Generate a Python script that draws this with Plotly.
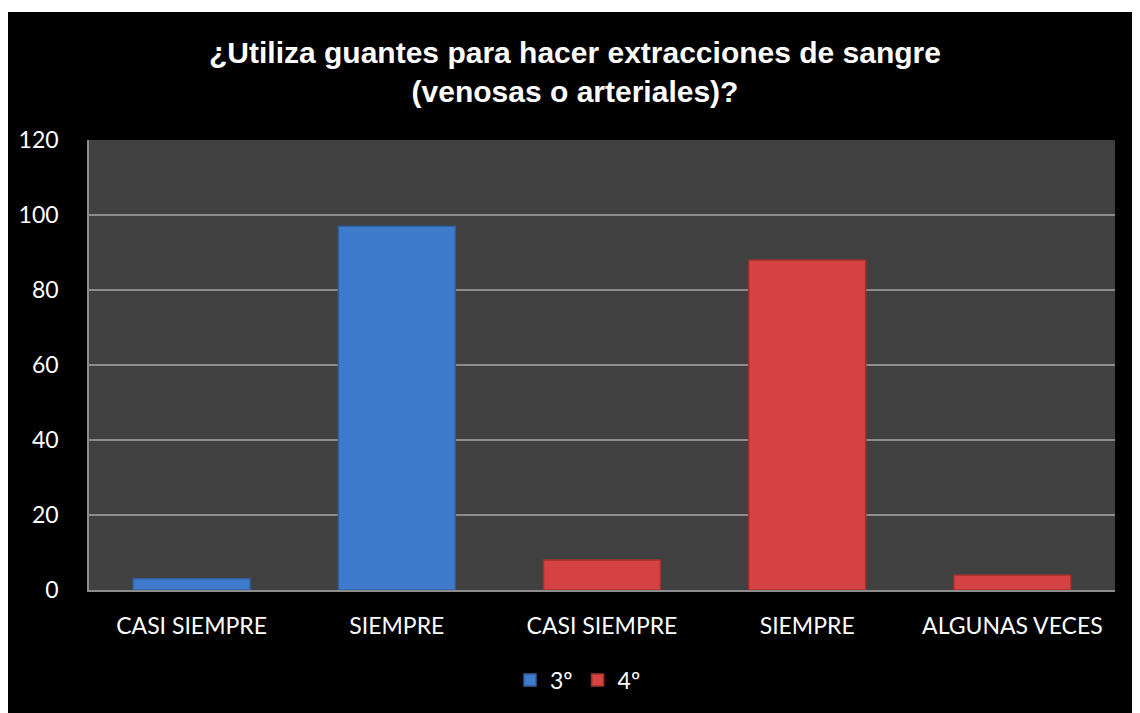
import plotly.graph_objects as go

# categories (two cohorts share some labels, so positions are indexed)
categories = ["CASI SIEMPRE", "SIEMPRE", "CASI SIEMPRE", "SIEMPRE", "ALGUNAS VECES"]
pos_3 = [0, 1]
vals_3 = [3, 97]
pos_4 = [2, 3, 4]
vals_4 = [8, 88, 4]

# page body adds an 8px margin, so the figure is drawn 8px smaller
W, H = 1132, 705
L, R, T, B = 81, 25, 132, 123
pw, ph = W - L - R, H - T - B


def px(x):
    return (x - L) / pw


def py(y):
    return 1 + (T - y) / ph


fig = go.Figure()
fig.add_trace(go.Bar(
    x=pos_3, y=vals_3, name="3º",
    marker=dict(color="#3f7bcc", line=dict(color="#2f5f9e", width=1.5)),
))
fig.add_trace(go.Bar(
    x=pos_4, y=vals_4, name="4º",
    marker=dict(color="#d44242", line=dict(color="#a32f2f", width=1.5)),
))

fig.update_layout(
    width=W, height=H,
    margin=dict(l=L, r=R, t=T, b=B),
    paper_bgcolor="black",
    plot_bgcolor="#404040",
    barmode="overlay",
    bargap=0.43,
    font=dict(family="Lato", color="white", size=23),
    title=dict(
        text="¿Utiliza guantes para hacer extracciones de sangre<br>(venosas o arteriales)?",
        x=px(567), xref="paper", xanchor="center",
        y=1 - 55 / H, yanchor="middle",
        font=dict(family="Liberation Sans", size=30, color="white", weight="bold"),
    ),
    legend=dict(
        orientation="h", x=px(570), xanchor="center", y=py(672), yanchor="middle",
        font=dict(size=23, color="white"), bgcolor="rgba(0,0,0,0)",
        traceorder="normal",
    ),
    xaxis=dict(
        tickmode="array", tickvals=list(range(len(categories))), ticktext=categories,
        range=[-0.5, 4.5], showgrid=False, showline=True, linecolor="#8c8c8c", linewidth=2,
        ticks="", ticklabelstandoff=14, tickfont=dict(size=23),
    ),
    yaxis=dict(
        range=[0, 120], dtick=20, showgrid=True, gridcolor="#8c8c8c", gridwidth=1.5,
        zeroline=False, showline=True, linecolor="#8c8c8c", linewidth=1.5,
        ticks="", ticklabelstandoff=24, tickfont=dict(size=23),
    ),
    shapes=[
        dict(type="rect", xref="paper", yref="paper", x0=px(-5), x1=px(W + 5),
             y0=py(4), y1=py(-5), fillcolor="white", line=dict(width=0), layer="below"),
    ],
)

fig.write_html("out.html")
